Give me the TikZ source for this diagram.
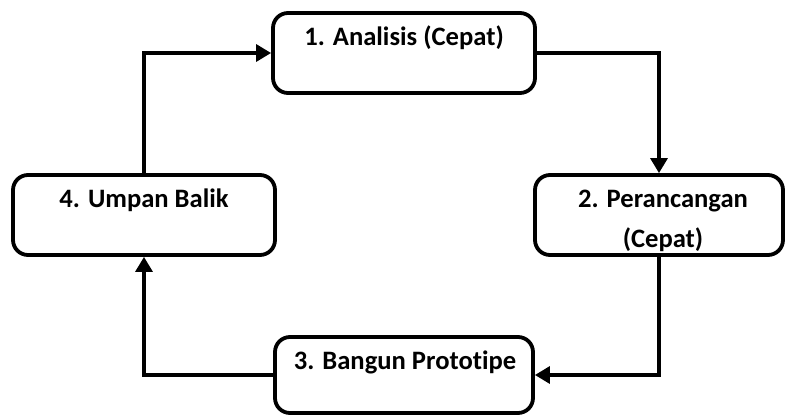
\documentclass[tikz,border=0pt]{standalone}
\usepackage{fontspec}
\setmainfont{Carlito}[Ligatures=NoCommon]
\usetikzlibrary{arrows.meta}
\tikzset{
  stagebox/.style={draw=black, line width=3.8pt, rounded corners=15pt, fill=white,
    minimum width=262pt, minimum height=80pt, inner sep=0pt},
  stagetext/.style={font=\fontsize{26.6}{40}\selectfont\bfseries, align=center, inner sep=0pt},
  flow/.style={line width=3.2pt, -{Triangle[length=15pt,width=17pt]}}
}
\begin{document}
\begin{tikzpicture}[x=1pt,y=-1pt]
\useasboundingbox (0,0) rectangle (785,415);
\clip (0,0) rectangle (785,415);
\node[stagebox] (b1) at (404,53) {};
\node[stagebox, minimum width=248pt] (b2) at (659,215) {};
\node[stagebox, minimum width=258pt, minimum height=76pt] (b3) at (404,375) {};
\node[stagebox] (b4) at (144,215) {};
\node[stagetext] (t1) at (404,38) {1. Analisis (Cepat)};
\node[stagetext] (t2) at (663,221) {2. Perancangan\\(Cepat)};
\node[stagetext] (t3) at (405,362) {3. Bangun Prototipe};
\node[stagetext] (t4) at (144,200) {4. Umpan Balik};
\draw[flow] (b1.east) -| (b2.north);
\draw[flow] (b2.south) |- (b3.east);
\draw[flow] (b3.west) -| (b4.south);
\draw[flow] (b4.north) |- (b1.west);
\end{tikzpicture}
\end{document}
